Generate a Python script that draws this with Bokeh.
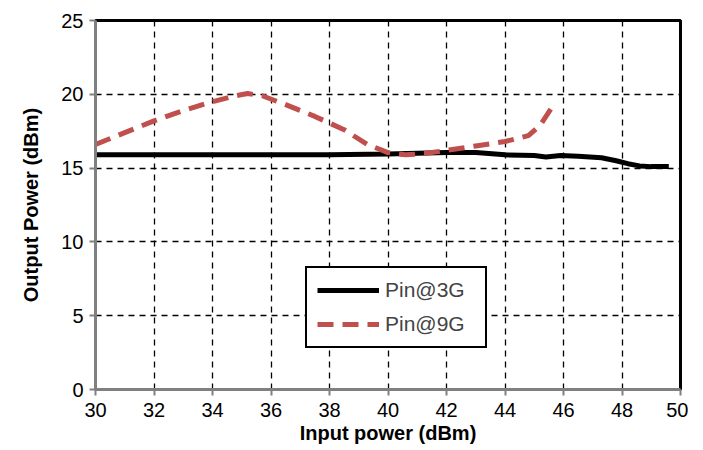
from bokeh.plotting import figure
from bokeh.models import Legend, LegendItem, FixedTicker
from bokeh.embed import file_html
from bokeh.resources import INLINE

x3 = [30, 32, 34, 36, 38, 40, 41, 42, 43, 44, 45, 45.4, 45.9, 46.5, 47.3, 47.8, 48.2, 48.6, 49.0, 49.6]
y3 = [15.9, 15.9, 15.9, 15.9, 15.9, 15.95, 16.0, 16.05, 16.05, 15.9, 15.85, 15.75, 15.85, 15.8, 15.7, 15.5, 15.3, 15.15, 15.1, 15.1]

x9 = [30, 31, 32, 33, 34, 34.8, 35.2, 35.7, 36.5, 37.5, 38.5, 39.3, 40, 40.6, 41.3, 42, 43, 44, 44.8, 45.2, 45.6]
y9 = [16.6, 17.4, 18.2, 18.9, 19.5, 19.9, 20.05, 19.9, 19.3, 18.5, 17.6, 16.6, 16.05, 15.9, 16.0, 16.2, 16.5, 16.8, 17.2, 17.9, 19.1]

xticks = list(range(30, 51, 2))
yticks = list(range(0, 26, 5))

p = figure(width=688, height=448, x_range=(30, 50), y_range=(0, 25),
           output_backend="svg", toolbar_location=None,
           min_border_left=95, min_border_right=8, min_border_top=20, min_border_bottom=59)

p.outline_line_color = "black"
p.outline_line_width = 3
p.background_fill_color = "white"

r3 = p.line(x3, y3, line_color="black", line_width=5)
r9 = p.line(x9, y9, line_color="#C0504D", line_width=5, line_dash="16 9")

for ax in (p.xaxis[0], p.yaxis[0]):
    ax.axis_line_color = "#808080"
    ax.axis_line_width = 3
    ax.major_tick_line_color = "#808080"
    ax.major_tick_line_width = 2
    ax.major_tick_in = 0
    ax.major_tick_out = 6
    ax.minor_tick_line_color = None
    ax.major_label_text_font = "Liberation Sans"
    ax.major_label_text_font_size = "20px"
    ax.major_label_text_color = "black"
    ax.axis_label_text_font = "Liberation Sans"
    ax.axis_label_text_font_style = "bold"
    ax.axis_label_text_font_size = "20px"
    ax.axis_label_text_color = "black"

p.xaxis.ticker = FixedTicker(ticks=xticks)
p.yaxis.ticker = FixedTicker(ticks=yticks)
p.xaxis.axis_label = "Input power (dBm)"
p.yaxis.axis_label = "Output Power (dBm)"
p.xaxis.axis_label_standoff = 2
p.yaxis.axis_label_standoff = 16
p.xaxis.major_label_standoff = 7
p.yaxis.major_label_standoff = 6

for g in (p.xgrid[0], p.ygrid[0]):
    g.grid_line_color = "black"
    g.grid_line_dash = "6 5"
    g.grid_line_width = 1.3

legend = Legend(items=[LegendItem(label="Pin@3G", renderers=[r3]),
                       LegendItem(label="Pin@9G", renderers=[r9])],
                location=(210, 41))
legend.border_line_color = "black"
legend.border_line_alpha = 1
legend.border_line_width = 2
legend.label_text_font = "Liberation Sans"
legend.label_text_font_size = "21px"
legend.glyph_width = 62
legend.label_standoff = 6
legend.label_width = 90
legend.label_height = 24
legend.padding = 10
legend.spacing = 10
legend.margin = 0
legend.background_fill_alpha = 1
p.add_layout(legend, "center")

open("out.html", "w").write(file_html(p, INLINE))
